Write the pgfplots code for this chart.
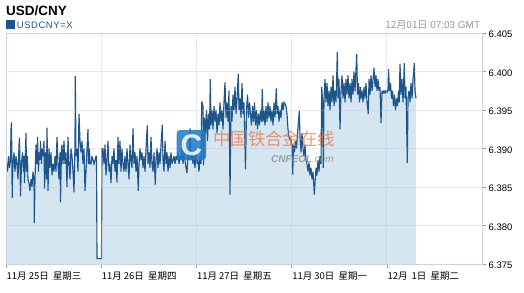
\documentclass[border=0pt]{standalone}
\usepackage{fontspec}
\setmainfont{Liberation Sans}
\newfontfamily\cjk{Noto Sans CJK SC}
\usepackage{pgfplots}
\usepackage{pgfplotstable}
\pgfplotsset{compat=1.18}
\definecolor{lineblue}{RGB}{30,86,140}
\definecolor{fillblue}{RGB}{214,230,241}
\definecolor{gridc}{RGB}{176,196,222}
\definecolor{axisgray}{RGB}{205,210,216}
\definecolor{tsgray}{RGB}{150,150,150}
\definecolor{logoblue}{RGB}{30,120,195}
\definecolor{wmorange}{RGB}{235,110,60}
\pgfplotstableread{
x y
6.7 6.3880
7.5 6.3870
8.5 6.3890
9.5 6.3875
10.5 6.3885
11.0 6.3925
11.5 6.3934
12.2 6.3836
13 6.3880
14 6.3895
15 6.3870
16 6.3890
17 6.3880
18 6.3860
19 6.3905
19.5 6.3914
20 6.3880
20.5 6.3838
21.5 6.3880
22.5 6.3895
23.5 6.3870
24 6.3890
24.5 6.3855
25.5 6.3900
26 6.3920
26.5 6.3870
27.5 6.3890
28 6.3860
29 6.3855
30 6.3845
31 6.3860
32 6.3850
33 6.3870
34 6.3860
34.3 6.3803
35 6.3860
36 6.3905
37 6.3880
37.5 6.3915
38.5 6.3870
39 6.3895
40 6.3885
40.5 6.3910
41.5 6.3880
42 6.3900
43 6.3890
44 6.3910
44.5 6.3848
45.5 6.3895
46.5 6.3860
47 6.3927
48 6.3845
49 6.3900
50 6.3875
51 6.3895
52 6.3865
53 6.3880
54 6.3870
55 6.3890
56 6.3870
57 6.3915
58 6.3880
59 6.3860
60 6.3895
60.5 6.3830
61.5 6.3900
62 6.3905
63 6.3880
64 6.3910
65 6.3880
66 6.3895
67 6.3850
68 6.3915
69 6.3880
70 6.3860
71 6.3900
72 6.3890
73 6.3870
74 6.3843
75 6.3905
75.3 6.3994
76 6.3890
77 6.3900
78 6.3870
79 6.3945
80 6.3910
81 6.3895
82 6.3910
83 6.3880
84 6.3900
85 6.3845
86 6.3870
87 6.3900
88 6.3925
88.5 6.3880
89.5 6.3900
90 6.3880
91 6.3880
92 6.3890
93 6.3885
94 6.3880
95 6.3885
96 6.3890
96.5 6.3890
97 6.3757
101.5 6.3757
102 6.3900
103 6.3900
104 6.3880
105 6.3905
106 6.3865
107 6.3885
108 6.3910
109 6.3870
110 6.3880
111 6.3855
112 6.3890
113 6.3880
114 6.3900
115 6.3870
116 6.3885
117 6.3856
118 6.3915
119 6.3880
120 6.3910
121 6.3870
122 6.3900
123 6.3880
124 6.3870
125 6.3890
126 6.3870
127 6.3900
128 6.3880
129 6.3860
130 6.3905
131 6.3885
132 6.3875
133 6.3926
134 6.3880
135 6.3895
136 6.3870
137 6.3890
138.3 6.3845
139 6.3880
140 6.3900
141 6.3885
142 6.3895
143 6.3875
144 6.3890
145 6.3870
146 6.3900
147.3 6.3930
148 6.3880
149 6.3895
150 6.3875
151 6.3915
152 6.3880
153 6.3870
154 6.3895
155.3 6.3853
156 6.3885
157 6.3900
158 6.3875
159 6.3895
160 6.3880
161 6.3905
162.3 6.3931
163 6.3885
164 6.3870
165 6.3910
166 6.3880
167 6.3895
168 6.3870
169 6.3890
170 6.3875
171 6.3895
172 6.3880
173 6.3885
174 6.3890
175 6.3880
176 6.3890
177 6.3885
178 6.3895
179 6.3880
180 6.3890
181 6.3885
182 6.3900
183 6.3880
184 6.3895
185 6.3885
186 6.3875
187 6.3868
188 6.3895
189 6.3885
190 6.3926
191 6.3885
192 6.3895
193 6.3880
194 6.3890
195 6.3875
196 6.3895
197 6.3880
198 6.3885
199 6.3870
200 6.3890
201 6.3880
201.7 6.3961
202 6.3960
203 6.3955
203.5 6.3878
204.5 6.3940
205.5 6.3920
206.5 6.3950
207.5 6.3910
208.5 6.3945
209.5 6.3925
210.3 6.3990
211 6.3930
212 6.3950
213 6.3925
214 6.3955
215 6.3935
216 6.3950
217 6.3920
218 6.3945
219 6.3930
220 6.3960
221 6.3935
222 6.3950
223 6.3925
224 6.3960
225 6.3986
226 6.3940
227 6.3960
228 6.3935
229 6.3975
230 6.3840
231 6.3955
232 6.3935
233 6.3970
234 6.3950
235 6.3980
236 6.3945
237 6.3965
238.3 6.3997
239 6.3950
240 6.3965
241 6.3940
242 6.3985
243 6.3945
244 6.3960
245.5 6.3873
246.5 6.3950
247.5 6.3970
248.5 6.3940
249.5 6.3960
250.5 6.3945
251.5 6.3930
252.5 6.3955
253.5 6.3935
254.5 6.3960
255.5 6.3930
256.5 6.3950
257.5 6.3925
258.5 6.3945
259.5 6.3930
260.5 6.3950
261.5 6.3935
262.3 6.3977
263 6.3935
264 6.3950
265 6.3930
266 6.3955
267 6.3935
268 6.3960
269 6.3940
270 6.3955
271 6.3935
272 6.3950
273 6.3930
274 6.3960
275 6.3940
276.3 6.3978
277 6.3945
278 6.3955
279 6.3935
280 6.3950
281 6.3940
282 6.3960
283 6.3950
284 6.3960
285 6.3958
286 6.3955
287 6.3945
288 6.3925
289 6.3915
290 6.3912
291 6.3912
292 6.3905
292.7 6.3866
293.5 6.3905
294.5 6.3895
295.5 6.3910
296.5 6.3900
297.5 6.3920
298.5 6.3935
299.3 6.3949
300 6.3915
301 6.3895
302 6.3920
303 6.3900
304 6.3890
305 6.3905
306 6.3885
307 6.3880
308 6.3870
309 6.3882
310 6.3865
311 6.3875
312 6.3860
313 6.3870
314.3 6.3840
315 6.3855
316 6.3875
317 6.3865
318 6.3885
319 6.3870
320 6.3890
321 6.3880
321.7 6.3980
322 6.3975
322.5 6.3960
323.3 6.3875
324 6.3965
325 6.3990
326 6.3960
327 6.3985
328 6.3955
329 6.3975
330 6.3950
331 6.3980
332 6.3960
333 6.3995
334 6.3955
335 6.3975
336 6.3960
337.3 6.4025
338 6.3965
339 6.3990
340 6.3925
341 6.3975
342 6.3995
343 6.3965
344 6.3985
345 6.3960
346 6.3990
347 6.3970
348 6.3995
349 6.3965
350 6.3985
351 6.3960
352 6.3990
353 6.3970
354 6.4000
355 6.3975
356.7 6.4023
357.5 6.3970
358.5 6.3985
359.5 6.3960
360.5 6.3980
361 6.3965
362 6.3975
363 6.3960
364 6.3980
365 6.3965
366 6.3985
367 6.3960
368.3 6.3945
369 6.3990
370 6.3970
371 6.3995
372 6.3975
373 6.3990
374 6.4005
375 6.3980
376 6.3995
377 6.3975
378 6.3990
379 6.3975
380 6.3980
381 6.3933
382 6.3975
383 6.3972
384 6.3975
385 6.3972
386 6.3975
387 6.3973
388 6.3976
388.5 6.4003
389.5 6.3975
390.5 6.3985
391.5 6.3965
392.5 6.3975
393.5 6.3955
394.5 6.3970
395.5 6.3950
396.5 6.3965
397.5 6.3955
398.5 6.3975
399.2 6.3960
400 6.4010
401 6.3970
402 6.3990
403 6.3960
404.3 6.4011
405 6.3965
406 6.3980
407.3 6.3881
408 6.3965
409 6.3975
410 6.3960
411 6.3985
412 6.3965
413 6.3990
414.3 6.4011
415 6.3975
416 6.3965
}\usdcny
\begin{document}
\begin{tikzpicture}[x=1bp,y=1bp]
\path[use as bounding box] (0,0) rectangle (524,292);
\begin{axis}[
  at={(6bp,28bp)}, anchor=south west,
  scale only axis, width=476bp, height=231bp,
  xmin=6, xmax=482, ymin=6.375, ymax=6.405,
  axis on top,
  axis line style={axisgray, line width=0.6bp},
  xtick={6,101.2,196.4,291.6,386.8},
  xticklabels={
    {\cjk 11月 25日\ \ 星期三},
    {\cjk 11月 26日\ \ 星期四},
    {\cjk 11月 27日\ \ 星期五},
    {\cjk 11月 30日\ \ 星期一},
    {\cjk 12月\ \ 1日\ \ 星期二}},
  ytick={6.375,6.38,6.385,6.39,6.395,6.4,6.405},
  /pgf/number format/fixed,
  /pgf/number format/fixed zerofill,
  /pgf/number format/precision=3,
  /pgf/number format/assume math mode=true,
  xtick pos=bottom, ytick pos=right, yticklabel pos=right,
  tick align=outside, major tick length=4bp,
  tick style={color=gridc!80!black, line width=0.6bp},
  grid=major,
  major grid style={gridc, opacity=0.35, line width=0.7bp},
  ticklabel style={font=\fontsize{9.5}{10}\selectfont, text=black},
  xticklabel style={anchor=north west, inner sep=0pt, yshift=-3bp, xshift=0.5bp},
  yticklabel style={anchor=west, inner sep=0pt, xshift=2.5bp, yshift=-1.5bp},
]
\addplot[fill=fillblue, draw=none] table {\usdcny} \closedcycle;
\addplot[lineblue, line width=1.15bp, line join=miter, miter limit=4] table {\usdcny};
\end{axis}
% title and legend
\node[anchor=base west, inner sep=0pt, font=\fontsize{13.5}{14}\selectfont\bfseries] at (6,277) {USD/CNY};
\fill[lineblue] (6,263.5) rectangle (14.5,272);
\node[anchor=base west, inner sep=0pt, text=lineblue, font=\fontsize{9.5}{10}\selectfont\addfontfeature{LetterSpace=6}] at (16.7,264) {USDCNY=X};
\node[anchor=base east, inner sep=0pt, text=tsgray, font=\fontsize{10}{10}\selectfont] at (480.3,263.7) {{\cjk 12月01日}\ 07:03 GMT};
% watermark
\begin{scope}[opacity=0.85]
\fill[logoblue, rounded corners=3bp] (176.7,132) rectangle (206,162);
\node[text=white, font=\fontsize{30}{30}\selectfont\bfseries, inner sep=0pt] at (191.3,147) {C};
\end{scope}
\node[anchor=base west, inner sep=0pt, text height=15bp, text depth=1bp, text=wmorange, opacity=0.7, font=\fontsize{17.5}{18}\selectfont\cjk] at (213,146.5) {中国铁合金在线};
\node[anchor=base west, inner sep=0pt, text height=7.5bp, text depth=0.5bp, text=gray, opacity=0.7, font=\fontsize{10}{11}\selectfont\bfseries\itshape] at (271,129.5) {CNFEOL\textmd{.com}};
\end{tikzpicture}
\end{document}
